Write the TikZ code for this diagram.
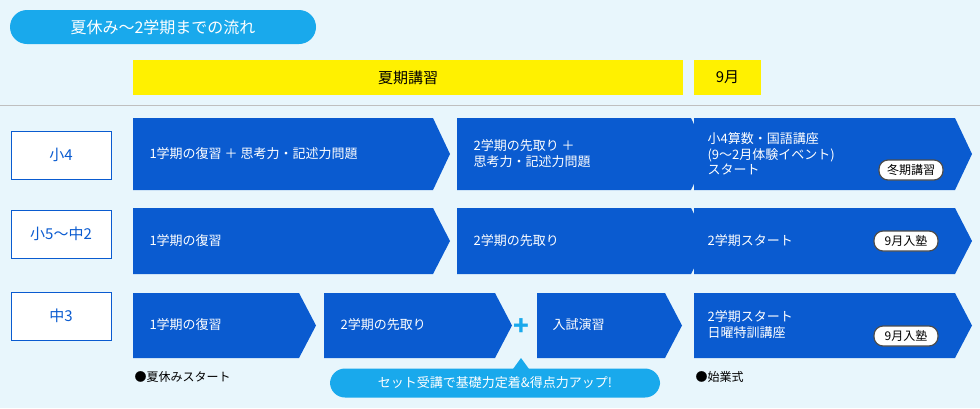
\documentclass[tikz,border=0pt]{standalone}
\usepackage{fontspec}
\setmainfont{Noto Sans CJK JP}
\definecolor{bgblue}{HTML}{E8F6FC}
\definecolor{stepblue}{HTML}{0A5BD0}
\definecolor{skyblue}{HTML}{19A9EC}
\definecolor{barYellow}{HTML}{FFF100}
\tikzset{
  chevfill/.style={fill=stepblue},
  steptext/.style={text=white, font=\fontsize{13}{16}\selectfont, anchor=west, align=left},
  rowlabel/.style={draw=stepblue, line width=1pt, fill=white, minimum width=100pt, minimum height=48pt, text=stepblue, font=\fontsize{15}{18}\selectfont},
  badge/.style={draw=black!70, line width=1.2pt, fill=white, rounded corners=9pt, minimum width=64pt, minimum height=20pt, font=\fontsize{12}{14}\selectfont},
  yellowbar/.style={fill=barYellow, minimum height=35pt, font=\fontsize{15}{18}\selectfont}
}
% chevron from x1 to x2 (tip), top y1, bottom y2
\newcommand{\chev}[4]{\fill[chevfill] (#1,#3) -- ({#2-17},#3) -- (#2,{(#3+#4)/2}) -- ({#2-17},#4) -- (#1,#4) -- cycle;}
\begin{document}
\begin{tikzpicture}[x=1pt,y=-1pt]
  \fill[bgblue] (0,0) rectangle (980,408);
  \useasboundingbox (0,0) rectangle (980,408);
  % title
  \node[fill=skyblue, rounded corners=17pt, minimum width=306pt, minimum height=34pt, text=white, font=\fontsize{16}{18}\selectfont] (title) at (163,27) {夏休み〜2学期までの流れ};
  % header bars
  \node[yellowbar, minimum width=550pt] (summer) at (408,77.5) {夏期講習};
  \node[yellowbar, minimum width=67pt] (sept) at (727.5,77.5) {9月};
  \draw[black!25, line width=1pt] (0,105) -- (980,105);
  % row labels
  \node[rowlabel] (r1) at (61,155) {小4};
  \node[rowlabel] (r2) at (61,234) {小5〜中2};
  \node[rowlabel] (r3) at (61,316) {中3};
  % row 1
  \chev{133}{450}{118}{190}
  \chev{457}{708}{118}{190}
  \chev{694}{972}{118}{190}
  \node[steptext] (a1) at (146,154) {1学期の復習 ＋ 思考力・記述力問題};
  \node[steptext] (a2) at (470,154) {2学期の先取り ＋\\思考力・記述力問題};
  \node[steptext, font=\fontsize{13}{15.5}\selectfont] (a3) at (704,154) {小4算数・国語講座\\(9〜2月体験イベント)\\スタート};
  \node[badge] (b1) at (911,170) {冬期講習};
  % row 2
  \chev{133}{450}{208}{274}
  \chev{457}{708}{208}{274}
  \chev{694}{972}{208}{274}
  \node[steptext] (c1) at (146,241) {1学期の復習};
  \node[steptext] (c2) at (470,241) {2学期の先取り};
  \node[steptext] (c3) at (704,241) {2学期スタート};
  \node[badge] (b2) at (906,241) {9月入塾};
  % row 3
  \chev{133}{316}{293}{358}
  \chev{324}{512}{293}{358}
  \chev{537}{682}{293}{358}
  \chev{694}{972}{293}{358}
  \node[steptext] (d1) at (146,325) {1学期の復習};
  \node[steptext] (d2) at (337,325) {2学期の先取り};
  \node[steptext] (d3) at (549,325) {入試演習};
  \node[steptext] (d4) at (704,325) {2学期スタート\\日曜特訓講座};
  \node[badge] (b3) at (906,336) {9月入塾};
  % plus and callout
  \node[text=skyblue, font=\bfseries\fontsize{26}{26}\selectfont] (plus) at (521,327) {+};
  \node[fill=skyblue, rounded corners=15pt, minimum width=330pt, minimum height=29pt, text=white, font=\fontsize{13}{15}\selectfont] (note) at (495,383) {セット受講で基礎力定着\&得点力アップ!};
  \fill[skyblue] (513,369) -- (521,358) -- (529,369) -- cycle;
  \node[anchor=west, font=\fontsize{12}{14}\selectfont] (n1) at (131,377) {●夏休みスタート};
  \node[anchor=west, font=\fontsize{12}{14}\selectfont] (n2) at (692,377) {●始業式};
\end{tikzpicture}
\end{document}
